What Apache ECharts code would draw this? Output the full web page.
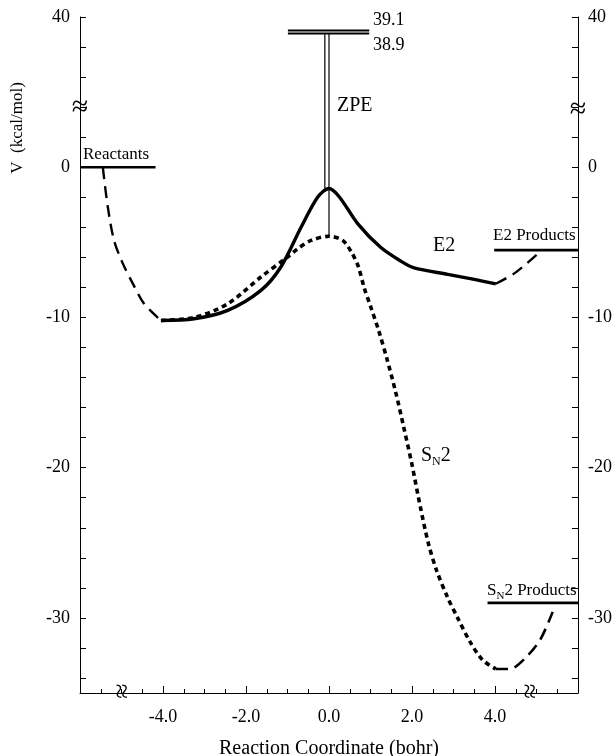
<!DOCTYPE html>
<html>
<head>
<meta charset="utf-8">
<script src="https://cdn.jsdelivr.net/npm/echarts@6/dist/echarts.min.js"></script>
<style>
  html, body { margin: 0; padding: 0; background: #fff; }
  #main { width: 615px; height: 756px; }
</style>
</head>
<body>
<div id="main"></div>
<script>
// y axis is broken between 0 and 40: values above the break are drawn shifted down by this
const BREAK_SHIFT = 30;

// energy levels (kcal/mol)
const reactantsX = [-6, -4.18];
const reactantsY = [0, 0];
const e2ProductsX = [3.98, 6];
const e2ProductsY = [-5.52, -5.52];
const sn2ProductsX = [3.82, 6];
const sn2ProductsY = [-29.0, -29.0];

// dashed: reactants -> ion-dipole complex
const entranceX = [-5.45, -5.33, -5.18, -4.97, -4.73, -4.46, -4.05];
const entranceY = [0, -2.65, -4.87, -6.4, -7.73, -9.07, -10.2];

// solid: E2 path
const e2X = [-4.05, -3.25, -2.44, -1.64, -1.16, -0.67, -0.27, 0, 0.25, 0.69, 1.25, 1.73, 2.05, 2.86, 3.5, 4.02];
const e2Y = [-10.2, -10.09, -9.53, -8.2, -6.64, -3.98, -1.98, -1.42, -1.98, -3.75, -5.35, -6.25, -6.7, -7.13, -7.47, -7.76];
const e2ExitX = [4.02, 4.5, 5.03];
const e2ExitY = [-7.76, -7.0, -5.76];

// dotted: SN2 path
const sn2X = [-4.05, -3.25, -2.44, -1.64, -1.0, -0.75, -0.43, 0, 0.33, 0.55, 0.71, 0.85, 1.0, 1.2, 1.4, 1.6, 1.8, 2.0, 2.2, 2.4, 2.6, 2.86, 3.1, 3.4, 3.7, 4.02];
const sn2Y = [-10.2, -10.0, -9.09, -7.31, -5.98, -5.42, -4.87, -4.6, -4.87, -5.7, -6.64, -8.05, -9.25, -10.9, -12.8, -14.9, -17.3, -19.8, -22.6, -25.1, -26.9, -28.65, -30.0, -31.6, -32.8, -33.4];
const sn2ExitX = [4.02, 4.35, 4.79, 5.1, 5.39];
const sn2ExitY = [-33.4, -33.4, -32.5, -31.4, -29.6];

// zero point energy corrected barriers
const zpeLevels = [39.1, 38.9];
const zpeLevelX = [-0.99, 0.97];
const zpeStemX = [-0.1, 0];
const zpeStemBottom = [-1.42, -4.6];

// axes
const yTickValues = [-34, -32, -30, -28, -26, -24, -22, -20, -18, -16, -14, -12, -10, -8, -6, -4, -2, 0, 2, 4, 6, 8, 10];
const yLabelValues = [-30, -20, -10, 0, 10];

const FONT = "'Liberation Serif', 'Times New Roman', serif";
const zip = (xs, ys) => xs.map((x, i) => [x, ys[i]]);
const shown = v => (v > 0 ? v - BREAK_SHIFT : v);

function curve(xs, ys, width, type, smooth) {
  return {
    type: 'line',
    data: zip(xs, ys),
    symbol: 'none',
    smooth: smooth,
    silent: true,
    lineStyle: { color: '#000', width: width, type: type, cap: 'butt' }
  };
}

const chart = echarts.init(document.getElementById('main'));

const yAxisBase = {
  type: 'value',
  min: -35,
  max: 10,
  axisLine: { show: true, onZero: false, lineStyle: { color: '#000', width: 1 } },
  axisTick: { show: true, inside: true, length: 6, customValues: yTickValues, lineStyle: { color: '#000' } },
  axisLabel: {
    customValues: yLabelValues,
    formatter: v => String(v > 0 ? v + BREAK_SHIFT : v),
    color: '#000', fontSize: 18, fontFamily: FONT, margin: 10
  },
  splitLine: { show: false }
};

const series = [
  curve(reactantsX, reactantsY, 2.6, 'solid', false),
  curve(e2ProductsX, e2ProductsY, 2.6, 'solid', false),
  curve(sn2ProductsX, sn2ProductsY, 2.6, 'solid', false),
  curve(entranceX, entranceY, 2.4, [12, 7], 0.3),
  curve(e2X, e2Y, 3.4, 'solid', 0.3),
  curve(e2ExitX, e2ExitY, 2.4, [12, 7], 0.3),
  curve(sn2X, sn2Y, 3.6, [5, 4], 0.3),
  curve(sn2ExitX, sn2ExitY, 2.6, [12, 7], 0.3)
];
zpeLevels.forEach(v => {
  series.push(curve(zpeLevelX, [shown(v), shown(v)], 2.2, 'solid', false));
});
zpeStemX.forEach((x, i) => {
  series.push(curve([x, x], [zpeStemBottom[i], shown(zpeLevels[1])], 1.2, 'solid', false));
});

const txt = (text, x, y, size, align, extra) => Object.assign({
  type: 'text', x: x, y: y, silent: true,
  style: { text: text, fill: '#000', fontSize: size, fontFamily: FONT, align: align || 'left', verticalAlign: 'middle' }
}, extra || {});

const subRich = size => ({
  m: { fontSize: size, fontFamily: FONT, fill: '#000' },
  s: { fontSize: Math.round(size * 0.62), fontFamily: FONT, fill: '#000', padding: [Math.round(size * 0.6), 0, 0, 0] }
});

chart.setOption({
  animation: false,
  textStyle: { fontFamily: FONT, color: '#000' },
  grid: { left: 80, right: 37, top: 17, bottom: 63, containLabel: false, outerBoundsMode: 'none' },
  xAxis: {
    type: 'value',
    min: -6,
    max: 6,
    interval: 2,
    axisLine: { onZero: false, lineStyle: { color: '#000', width: 1 } },
    axisTick: { inside: true, length: 7, lineStyle: { color: '#000' } },
    minorTick: { show: true, splitNumber: 4, length: 4, lineStyle: { color: '#000' } },
    axisLabel: {
      formatter: v => (Math.abs(v) >= 6 ? '' : v.toFixed(1)),
      color: '#000', fontSize: 18, fontFamily: FONT, margin: 15
    },
    splitLine: { show: false },
    minorSplitLine: { show: false },
    name: 'Reaction Coordinate (bohr)',
    nameLocation: 'middle',
    nameGap: 46,
    nameTextStyle: { color: '#000', fontSize: 20, fontFamily: FONT }
  },
  yAxis: [
    Object.assign({}, yAxisBase, { position: 'left' }),
    Object.assign({}, yAxisBase, { position: 'right' })
  ],
  series: series,
  graphic: [
    // axis breaks
    txt('≈', 80, 108, 30, 'center'),
    txt('≈', 578, 110, 30, 'center'),
    txt('≈', 124, 691, 28, 'center', { rotation: Math.PI / 2 }),
    txt('≈', 532, 691, 28, 'center', { rotation: Math.PI / 2 }),
    // y axis title
    txt('V  (kcal/mol)', 18, 128, 17, 'center', { rotation: Math.PI / 2 }),
    // annotations
    txt('Reactants', 83, 155, 17),
    txt('E2 Products', 493, 236, 17),
    txt('E2', 433, 246, 20),
    txt('ZPE', 337, 106, 20),
    txt('39.1', 373, 20, 18),
    txt('38.9', 373, 45, 18),
    {
      type: 'text', x: 421, y: 456, silent: true,
      style: { text: '{m|S}{s|N}{m|2}', rich: subRich(20), fill: '#000', align: 'left', verticalAlign: 'middle' }
    },
    {
      type: 'text', x: 487, y: 591, silent: true,
      style: { text: '{m|S}{s|N}{m|2 Products}', rich: subRich(17), fill: '#000', align: 'left', verticalAlign: 'middle' }
    }
  ]
});
</script>
</body>
</html>
